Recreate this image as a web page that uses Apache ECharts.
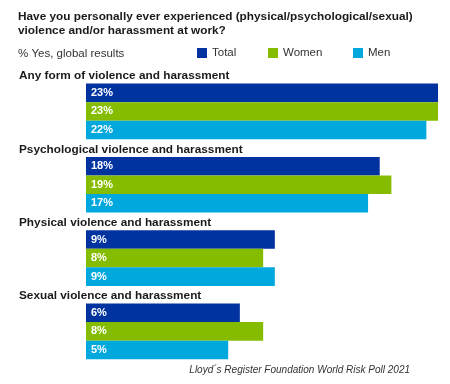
<!DOCTYPE html>
<html><head><meta charset="utf-8">
<script src="https://cdn.jsdelivr.net/npm/echarts@6/dist/echarts.min.js"></script>
<style>html,body{margin:0;padding:0;background:#fff}#c{width:450px;height:384px}</style>
</head><body><div id="c"></div>
<script>
const categories = ["Any form of violence and harassment","Psychological violence and harassment","Physical violence and harassment","Sexual violence and harassment"];
const total = [23, 18, 9, 6];
const women = [23, 19, 8, 8];
const men = [22, 17, 9, 5];
const seriesNames = ["Total","Women","Men"];
const colors = ["#0033a0","#86bc00","#00a8de"];
const titleText = "Have you personally ever experienced (physical/psychological/sexual)\nviolence and/or harassment at work?";
const subtitleText = "% Yes, global results";
const sourceText = "Lloyd´s Register Foundation World Risk Poll 2021";

const F = "Liberation Sans";
const chart = echarts.init(document.getElementById('c'), null, {renderer:'canvas'});
const mk = (name, data, i) => ({
  name, type:'bar', data, barGap:'0%', barCategoryGap:'24%',
  itemStyle:{color:colors[i]},
  label:{show:true, position:'insideLeft', distance:5, formatter:'{c}%', color:'#fff', fontFamily:F, fontWeight:'bold', fontSize:11},
  emphasis:{disabled:true}, animation:false
});
const legendPos = [192, 263, 348];
chart.setOption({
  animation:false,
  title:[
    {text:titleText, left:13, top:5, textStyle:{fontFamily:F, fontWeight:'bold', fontSize:11.8, lineHeight:13.5, color:'#1a1a1a'}},
    {text:subtitleText, left:13, top:42.5, textStyle:{fontFamily:F, fontWeight:'normal', fontSize:11.5, color:'#333'}},
    {text:sourceText, right:35, top:360, textStyle:{fontFamily:F, fontStyle:'italic', fontWeight:'normal', fontSize:10, color:'#333'}}
  ],
  legend: seriesNames.map((n,i)=>({data:[n], left:legendPos[i], top:42, itemWidth:10, itemHeight:10, icon:'rect', itemGap:6, textStyle:{fontFamily:F, fontSize:11.5, color:'#333'}, selectedMode:false})),
  grid:{left:86, right:12, top:74.8, bottom:16, containLabel:false},
  xAxis:{type:'value', min:-7.2, max:23, startValue:-7.2, show:false, splitLine:{show:false}},
  yAxis:{type:'category', data:categories, inverse:true,
    axisLine:{show:false}, axisTick:{show:false},
    axisLabel:{align:'left', margin:67, formatter:'{a|{value}}', rich:{a:{fontFamily:F, fontWeight:'bold', fontSize:11.8, color:'#1a1a1a', padding:[0,0,71,0]}}}},
  series:[mk(seriesNames[0], total, 0), mk(seriesNames[1], women, 1), mk(seriesNames[2], men, 2)]
});
</script></body></html>
